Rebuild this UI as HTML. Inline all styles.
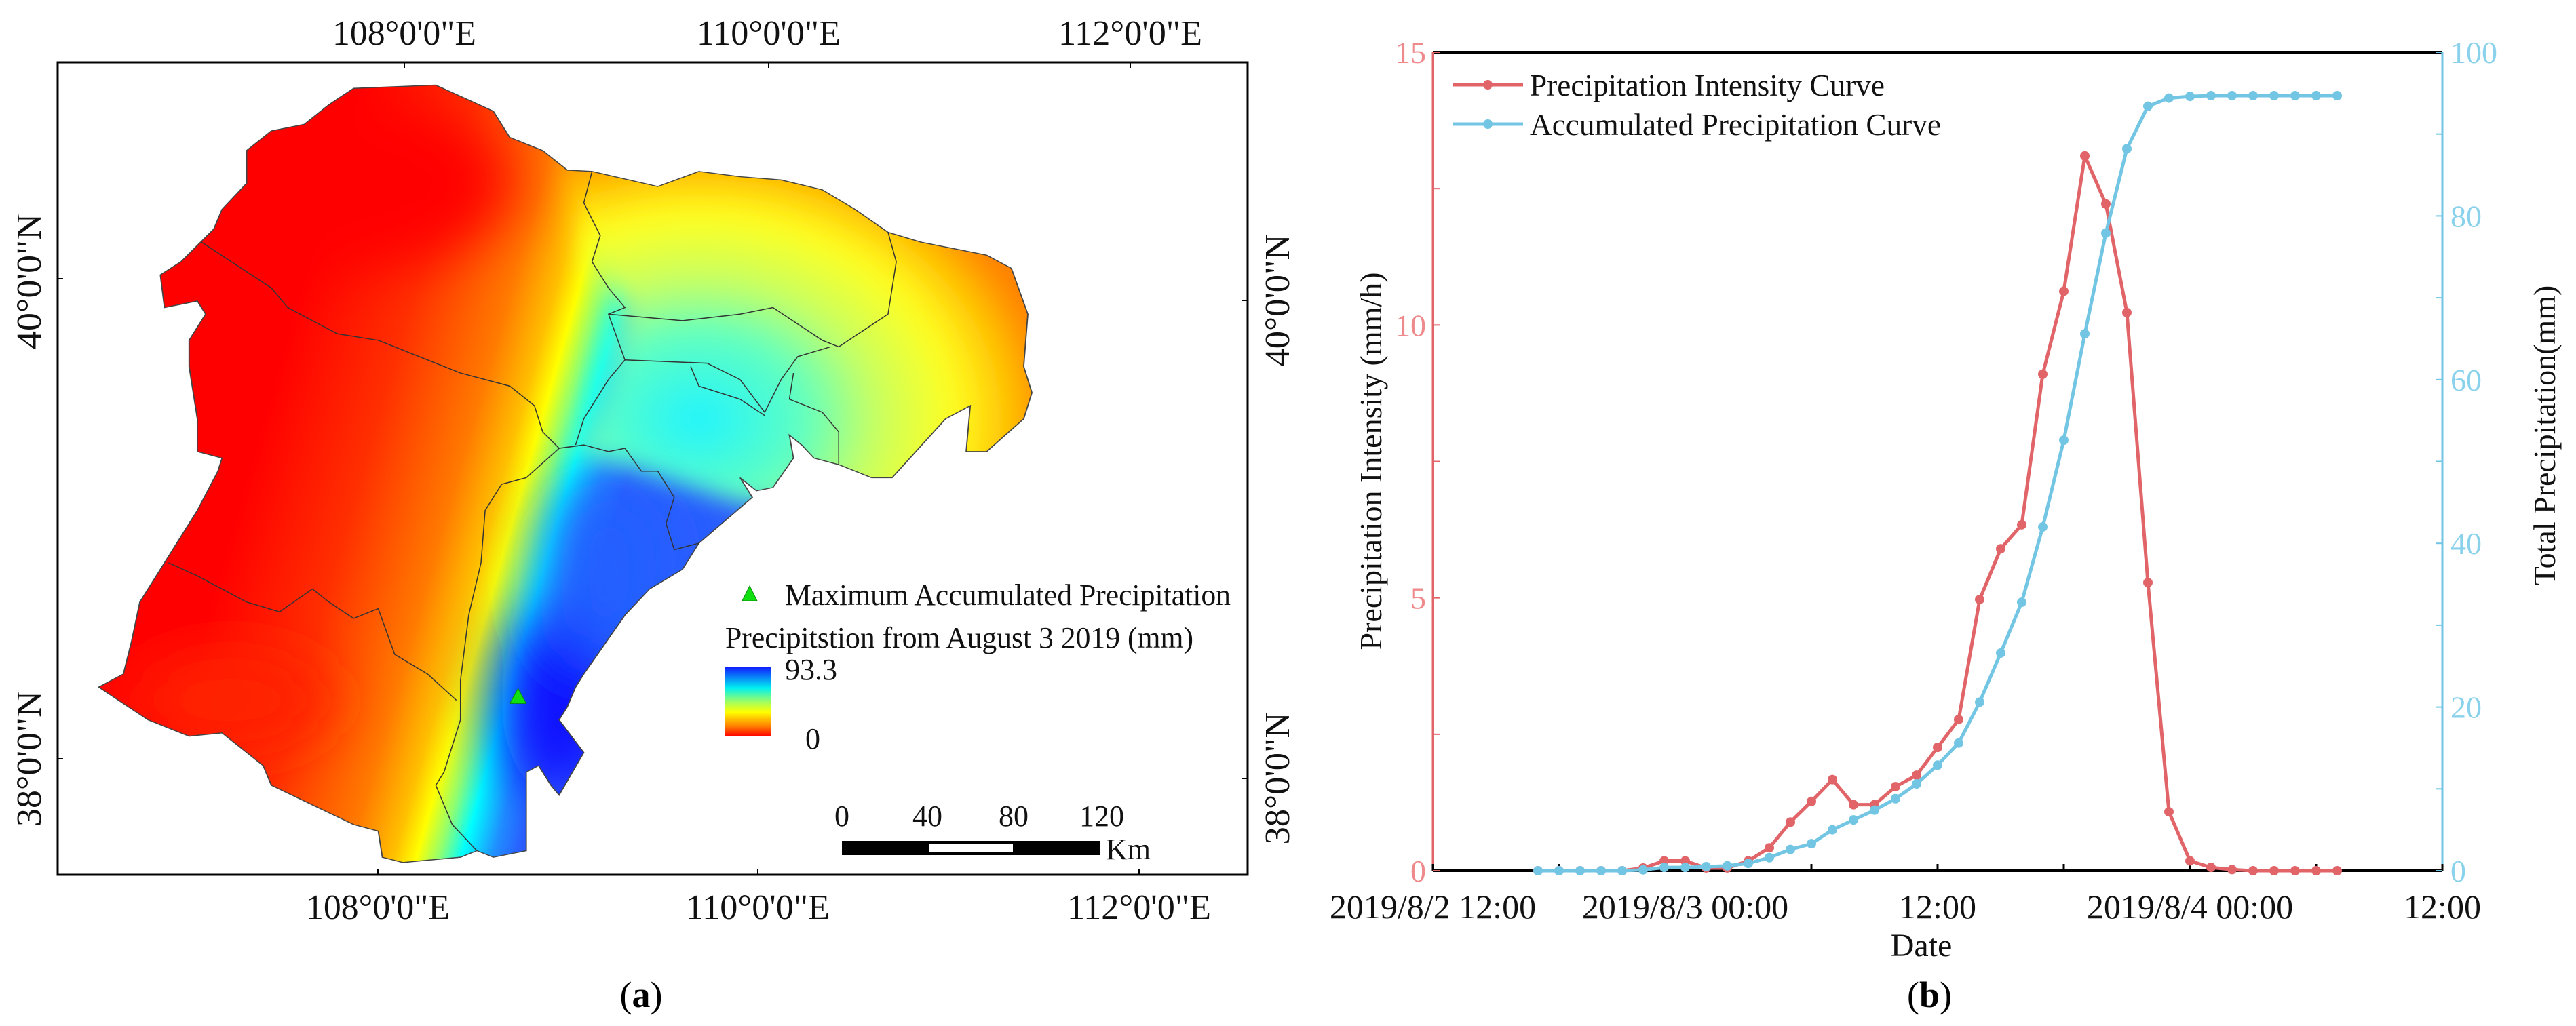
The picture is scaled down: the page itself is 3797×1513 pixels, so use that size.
<!DOCTYPE html>
<html><head><meta charset="utf-8"><style>
html,body{margin:0;padding:0;background:#fff;}
svg{display:block;}
svg text{font-family:"Liberation Serif","Times New Roman",serif;}
</style></head><body>
<svg id="fig" width="3797" height="1513" viewBox="0 0 3797 1513" xmlns="http://www.w3.org/2000/svg" font-family="Liberation Serif, serif">
<defs>
<linearGradient id="mapgrad" gradientUnits="userSpaceOnUse" x1="330" y1="600" x2="770" y2="700">
<stop offset="0" stop-color="#ff0000"/><stop offset="0.3" stop-color="#ff3000"/><stop offset="0.55" stop-color="#ff7a00"/><stop offset="0.67" stop-color="#ffc000"/><stop offset="0.73" stop-color="#ffff00"/><stop offset="0.79" stop-color="#90ff70"/><stop offset="0.85" stop-color="#00ffff"/><stop offset="0.93" stop-color="#2090ff"/><stop offset="1" stop-color="#2a5cff"/>
</linearGradient>
<radialGradient id="negrad" gradientUnits="userSpaceOnUse" cx="850" cy="640" r="430">
<stop offset="0" stop-color="#20f4ff"/><stop offset="0.3" stop-color="#60ffc0"/><stop offset="0.5" stop-color="#c8ff60"/><stop offset="0.72" stop-color="#ffff20"/><stop offset="0.88" stop-color="#ffc000"/><stop offset="1" stop-color="#ff8000"/>
</radialGradient>
<linearGradient id="cbar" x1="0" y1="0" x2="0" y2="1">
<stop offset="0" stop-color="#1020ff"/><stop offset="0.3" stop-color="#00f0f0"/><stop offset="0.5" stop-color="#a0ff60"/><stop offset="0.65" stop-color="#ffff00"/><stop offset="0.85" stop-color="#ff8000"/><stop offset="1" stop-color="#ff0000"/>
</linearGradient>
<clipPath id="mapclip"><polygon id="outline" points="430,135 530,130 600,170 620,210 660,230 690,260 720,262 800,285 850,262 900,270 950,275 1000,290 1040,320 1080,355 1120,370 1200,390 1230,410 1250,480 1245,560 1255,600 1245,640 1200,690 1175,690 1180,620 1150,640 1085,730 1060,730 1020,710 990,700 975,680 960,665 965,700 940,745 920,750 900,730 915,760 850,830 830,870 790,900 760,940 710,1030 700,1050 690,1080 680,1100 710,1150 680,1215 670,1200 655,1170 640,1180 640,1300 600,1310 580,1300 560,1310 490,1318 465,1310 460,1270 430,1260 380,1230 330,1200 320,1170 270,1120 230,1125 180,1100 120,1050 150,1030 160,980 170,920 200,860 240,780 265,720 270,700 240,690 240,640 230,560 230,520 250,480 240,460 200,470 195,420 220,400 260,350 270,320 300,280 300,230 330,200 370,190 400,160"/></clipPath>
<filter id="blur" x="-50%" y="-50%" width="200%" height="200%"><feGaussianBlur stdDeviation="40"/></filter>
<filter id="blur2" x="-20%" y="-20%" width="140%" height="140%"><feGaussianBlur stdDeviation="18"/></filter>
</defs>

<!-- ===== Panel (a) map ===== -->
<g>
<g transform="scale(1.212,0.965)">
<g clip-path="url(#mapclip)">
<rect x="100" y="100" width="1200" height="1250" fill="url(#mapgrad)"/>
<g filter="url(#blur)">
<ellipse cx="680" cy="1070" rx="70" ry="150" fill="#0a10ff"/>
<ellipse cx="740" cy="870" rx="70" ry="140" fill="#2060ff"/>
<ellipse cx="420" cy="280" rx="200" ry="130" fill="#ff0000"/>
<ellipse cx="280" cy="1070" rx="120" ry="80" fill="#ff2000"/>
</g>
<polygon filter="url(#blur2)" points="712,100 1320,100 1320,780 900,770 780,720 700,690 735,580 755,470 715,400 695,260" fill="url(#negrad)"/>
</g>
<use href="#outline" fill="none" stroke="#444" stroke-width="1.5" vector-effect="non-scaling-stroke"/>
<g fill="none" stroke="#333" stroke-width="1.5">
<polyline vector-effect="non-scaling-stroke" points="245,370 330,440 350,470 410,510 460,520 560,570 620,590 650,620 660,660 680,685 710,680 740,690 760,685 780,720 800,720 820,760 810,800 820,840 850,830"/>
<polyline vector-effect="non-scaling-stroke" points="680,685 640,730 610,740 590,780 585,860 570,940 560,1040 560,1100 540,1180 530,1200 550,1260 580,1300"/>
<polyline vector-effect="non-scaling-stroke" points="205,860 240,880 300,920 340,935 380,900 400,920 430,945 460,930 480,1000 520,1030 555,1070"/>
<polyline vector-effect="non-scaling-stroke" points="720,262 710,310 730,360 720,400 740,440 760,470 740,480 760,550 740,580 710,640 700,680"/>
<polyline vector-effect="non-scaling-stroke" points="740,480 830,490 900,480 940,470 1000,520 1020,530 1080,480 1090,400 1080,355"/>
<polyline vector-effect="non-scaling-stroke" points="760,550 860,555 900,580 930,630 950,580 970,545 1010,530"/>
<polyline vector-effect="non-scaling-stroke" points="840,560 850,590 900,610 930,635"/>
<polyline vector-effect="non-scaling-stroke" points="965,570 960,610 1000,630 1020,660 1020,710"/>
</g>
<polygon points="630,1052 620,1075 640,1075" fill="#10e010" stroke="#0a8a0a" stroke-width="1" vector-effect="non-scaling-stroke"/>
</g>
<rect x="85" y="92" width="1754" height="1198" fill="none" stroke="#000" stroke-width="3"/>
<g stroke="#000" stroke-width="2">
<line x1="596" y1="92" x2="596" y2="100"/><line x1="1133" y1="92" x2="1133" y2="100"/><line x1="1666" y1="92" x2="1666" y2="100"/>
<line x1="557" y1="1290" x2="557" y2="1282"/><line x1="1117" y1="1290" x2="1117" y2="1282"/><line x1="1679" y1="1290" x2="1679" y2="1282"/>
<line x1="85" y1="411" x2="93" y2="411"/><line x1="85" y1="1119" x2="93" y2="1119"/>
<line x1="1839" y1="443" x2="1831" y2="443"/><line x1="1839" y1="1148" x2="1831" y2="1148"/>
</g>
<g font-size="52" fill="#111" text-anchor="middle">
<text x="596" y="66" textLength="212" lengthAdjust="spacingAndGlyphs">108°0'0"E</text>
<text x="1133" y="66" textLength="212" lengthAdjust="spacingAndGlyphs">110°0'0"E</text>
<text x="1666" y="66" textLength="212" lengthAdjust="spacingAndGlyphs">112°0'0"E</text>
<text x="557" y="1355" textLength="212" lengthAdjust="spacingAndGlyphs">108°0'0"E</text>
<text x="1117" y="1355" textLength="212" lengthAdjust="spacingAndGlyphs">110°0'0"E</text>
<text x="1679" y="1355" textLength="212" lengthAdjust="spacingAndGlyphs">112°0'0"E</text>
<text transform="translate(60,415) rotate(-90)" textLength="200" lengthAdjust="spacingAndGlyphs">40°0'0"N</text>
<text transform="translate(60,1119) rotate(-90)" textLength="200" lengthAdjust="spacingAndGlyphs">38°0'0"N</text>
<text transform="translate(1900,443) rotate(-90)" textLength="195" lengthAdjust="spacingAndGlyphs">40°0'0"N</text>
<text transform="translate(1900,1148) rotate(-90)" textLength="195" lengthAdjust="spacingAndGlyphs">38°0'0"N</text>
</g>
<g font-size="44" fill="#111">
<polygon points="1105,864 1094,886 1116,886" fill="#10e010" stroke="#0a8a0a" stroke-width="1"/>
<text x="1157" y="892" textLength="657" lengthAdjust="spacingAndGlyphs">Maximum Accumulated Precipitation</text>
<text x="1069" y="955" textLength="690" lengthAdjust="spacingAndGlyphs">Precipitstion from August 3 2019 (mm)</text>
<rect x="1069" y="984" width="68" height="102" fill="url(#cbar)"/>
<text x="1157" y="1002">93.3</text>
<text x="1187" y="1104">0</text>
</g>
<g font-size="44" fill="#111" text-anchor="middle">
<text x="1241" y="1218">0</text><text x="1367" y="1218">40</text><text x="1494" y="1218">80</text><text x="1624" y="1218">120</text>
<rect x="1241" y="1240" width="381" height="21" fill="#000"/>
<rect x="1369" y="1244" width="124" height="13" fill="#fff"/>
<text x="1663" y="1267">Km</text>
</g>
<text x="945" y="1485" font-size="54" text-anchor="middle">(<tspan font-weight="bold">a</tspan>)</text>
</g>

<!-- ===== Panel (b) chart ===== -->
<g id="chart"></g>
<text x="2844" y="1485" font-size="54" text-anchor="middle">(<tspan font-weight="bold">b</tspan>)</text>
</svg>
<script>
// hours since 2019/8/2 12:00
const hours = [5,6,7,8,9,10,11,12,13,14,15,16,17,18,19,20,21,22,23,24,25,26,27,28,29,30,31,32,33,34,35,36,37,38,39,40,41,42,43];
const intensity = [0,0,0,0,0,0.05,0.18,0.18,0.05,0.05,0.18,0.42,0.89,1.27,1.67,1.21,1.21,1.54,1.75,2.26,2.77,4.97,5.9,6.34,9.1,10.62,13.1,12.22,10.23,5.28,1.08,0.18,0.06,0.02,0,0,0,0,0];
const accumulated = [0,0,0,0,0,0.1,0.4,0.4,0.5,0.6,0.9,1.6,2.6,3.3,5.0,6.2,7.4,8.8,10.6,12.9,15.6,20.6,26.6,32.8,42,52.6,65.6,77.9,88.2,93.4,94.4,94.6,94.7,94.7,94.7,94.7,94.7,94.7,94.7];
const xTickHours = [0,6,12,18,24,30,36,42,48];
const xTickLabels = ["2019/8/2 12:00","","2019/8/3 00:00","","12:00","","2019/8/4 00:00","","12:00"];
const leftTicks = [0,5,10,15];
const rightTicks = [0,20,40,60,80,100];

const L=2112,R=3600,T=77,B=1284;
const xs=h=>L+(h-0)/48*(R-L);
const yl=v=>B-v/15*(B-T);
const yr=v=>B-v/100*(B-T);
const NS="http://www.w3.org/2000/svg";
const g=document.getElementById('chart');
function mk(tag,attrs,parent){const e=document.createElementNS(NS,tag);for(const k in attrs)e.setAttribute(k,attrs[k]);(parent||g).appendChild(e);return e;}
const RED="#e06468", BLUE="#72c6e4", REDT="#ee8a8c", BLUET="#8ad2ec";

let e;
e=mk('line',{x1:L,y1:T,x2:R,y2:T,stroke:"#000","stroke-width":4});


e=mk('line',{x1:L,y1:B,x2:R,y2:B,stroke:"#000","stroke-width":4});


e=mk('line',{x1:L,y1:T,x2:L,y2:B,stroke:RED,"stroke-width":3});


e=mk('line',{x1:R,y1:T,x2:R,y2:B,stroke:BLUE,"stroke-width":3});



xTickHours.forEach((h,i)=>{
  const t=mk('line',{x1:xs(h),y1:B,x2:xs(h),y2:B-10,stroke:"#000","stroke-width":3});
  
  
  if(xTickLabels[i]){
    const tx=mk('text',{x:xs(h),y:1354,"font-size":50,"text-anchor":"middle",fill:"#111"});
    tx.textContent=xTickLabels[i];
    
    
  }
});
for(let v=0;v<=15;v+=2.5){
  const t=mk('line',{x1:L,y1:yl(v),x2:L+10,y2:yl(v),stroke:RED,"stroke-width":2});
  
  
}
leftTicks.forEach(v=>{
  const tx=mk('text',{x:L-10,y:yl(v)+16,"font-size":46,"text-anchor":"end",fill:REDT});
  tx.textContent=v;
  
  
});
for(let v=0;v<=100;v+=10){
  const t=mk('line',{x1:R,y1:yr(v),x2:R-10,y2:yr(v),stroke:BLUE,"stroke-width":2});
  
  
}
rightTicks.forEach(v=>{
  const tx=mk('text',{x:R+12,y:yr(v)+16,"font-size":46,"text-anchor":"start",fill:BLUET});
  tx.textContent=v;
  
  
});
e=mk('text',{x:0,y:0,"font-size":46,"text-anchor":"middle",fill:"#111",transform:"translate(2036,680) rotate(-90)"});
e.textContent="Precipitation Intensity (mm/h)";


e=mk('text',{x:0,y:0,"font-size":46,"text-anchor":"middle",fill:"#111",transform:"translate(3766,642) rotate(-90)"});
e.textContent="Total Precipitation(mm)";


e=mk('text',{x:2832,y:1410,"font-size":48,"text-anchor":"middle",fill:"#111"});
e.textContent="Date";



function series(vals,yf,color,name){
  const pts=hours.map((h,i)=>xs(h)+","+yf(vals[i])).join(" ");
  const pl=mk('polyline',{points:pts,fill:"none",stroke:color,"stroke-width":5,"stroke-linejoin":"round"});
  
  
  hours.forEach((h,i)=>{
    const c=mk('circle',{cx:xs(h),cy:yf(vals[i]),r:7,fill:color});
    
    
  });
}
series(intensity,yl,RED,'intensity');
series(accumulated,yr,BLUE,'accumulated');

const lg=mk('g',{});


mk('line',{x1:2142,y1:125,x2:2245,y2:125,stroke:RED,"stroke-width":5},lg);
mk('circle',{cx:2193,cy:125,r:7,fill:RED},lg);
e=mk('text',{x:2255,y:141,"font-size":45,fill:"#111",textLength:523,lengthAdjust:"spacingAndGlyphs"},lg);
e.textContent="Precipitation Intensity Curve";


mk('line',{x1:2142,y1:183,x2:2245,y2:183,stroke:BLUE,"stroke-width":5},lg);
mk('circle',{cx:2193,cy:183,r:7,fill:BLUE},lg);
e=mk('text',{x:2255,y:199,"font-size":45,fill:"#111",textLength:606,lengthAdjust:"spacingAndGlyphs"},lg);
e.textContent="Accumulated Precipitation Curve";


</script>
</body></html>
